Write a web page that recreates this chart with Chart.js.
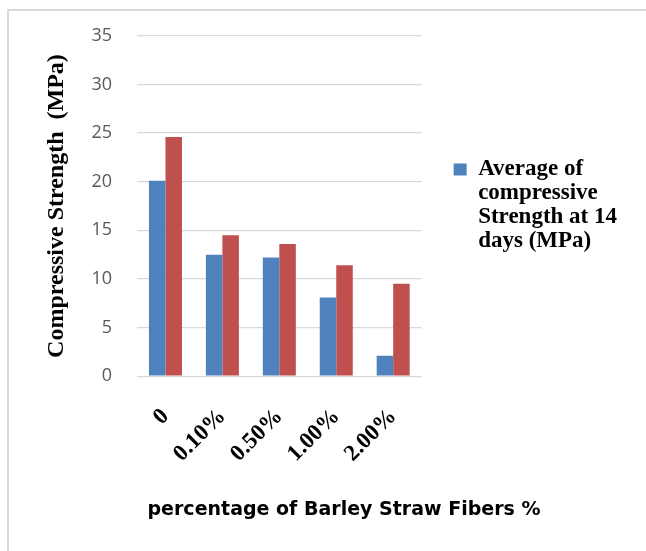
<!DOCTYPE html>
<html>
<head>
<meta charset="utf-8">
<script src="https://cdn.jsdelivr.net/npm/chart.js@4.4.1/dist/chart.umd.min.js"></script>
<style>
  html, body { margin: 0; padding: 0; background: #fff; overflow: hidden; }
  #wrap { position: relative; width: 646px; height: 551px; }
  #frame { position: absolute; left: 7px; top: 9px; right: -10px; bottom: -10px;
           border-left: 2px solid #d9d9d9; border-top: 2px solid #d9d9d9; }
  canvas { position: absolute; left: 0; top: 0; }
</style>
</head>
<body>
<div id="wrap">
  <div id="frame"></div>
  <canvas id="chart" width="646" height="551"></canvas>
</div>
<script>
// fiber content categories
const categories = ['0', '0.10%', '0.50%', '1.00%', '2.00%'];
// compressive strength at 14 days (MPa)
const strength14 = [20.1, 12.5, 12.2, 8.1, 2.1];
// second series (its legend entry is cut off in the source)
const strength28 = [24.6, 14.5, 13.6, 11.4, 9.5];
const yTicks = [0, 5, 10, 15, 20, 25, 30, 35];
const legendLines = ['Average of', 'compressive', 'Strength at 14', 'days (MPa)'];
const xCaption = 'percentage of Barley Straw Fibers %';

const serif = '"Liberation Serif", "Times New Roman", serif';

// x caption is centred on the whole figure, not on the plot area
const captionPlugin = {
  id: 'caption',
  afterDraw(chart) {
    const ctx = chart.ctx;
    ctx.save();
    ctx.font = 'bold 19px "DejaVu Sans", sans-serif';
    ctx.fillStyle = '#000';
    ctx.textAlign = 'center';
    ctx.textBaseline = 'alphabetic';
    ctx.fillText(xCaption, 344, 515);
    ctx.restore();
  }
};

new Chart(document.getElementById('chart'), {
  type: 'bar',
  data: {
    labels: categories,
    datasets: [
      { label: 'Average of compressive Strength at 14 days (MPa)', data: strength14, backgroundColor: '#4f81bd' },
      { label: 'Compressive Strength (MPa)', data: strength28, backgroundColor: '#c0504d' }
    ]
  },
  options: {
    responsive: false,
    animation: false,
    layout: { padding: { left: 7, right: 19, top: 33.5, bottom: 64.5 } },
    datasets: { bar: { categoryPercentage: 0.58, barPercentage: 1 } },
    plugins: {
      tooltip: { enabled: false },
      legend: {
        position: 'right',
        fullSize: false,
        maxWidth: 300,
        labels: {
          boxWidth: 13,
          boxHeight: 12,
          padding: 32,
          color: '#000',
          font: { family: serif, size: 23, weight: 'bold', lineHeight: '24px' },
          generateLabels: chart => Chart.defaults.plugins.legend.labels.generateLabels(chart)
            .filter(item => item.datasetIndex === 0)
            .map(item => ({ ...item, text: legendLines, lineWidth: 0 }))
        }
      }
    },
    scales: {
      x: {
        grid: { display: false },
        border: { display: false },
        ticks: { color: '#000', font: { family: serif, size: 23, weight: 'bold' }, maxRotation: 45, minRotation: 45, padding: 19 }
      },
      y: {
        min: 0,
        max: 35,
        afterBuildTicks: axis => { axis.ticks = yTicks.map(v => ({ value: v })); },
        afterFit: axis => { axis.width = 130; },
        grid: { color: '#d9d9d9', lineWidth: 1.3, drawTicks: false },
        border: { display: false },
        ticks: { color: '#595959', font: { family: '"Open Sans", sans-serif', size: 18 }, padding: 25 },
        title: {
          display: true,
          text: 'Compressive Strength  (MPa)',
          color: '#000',
          font: { family: serif, size: 24, weight: 'bold', lineHeight: 1.1 },
          padding: { top: 37, bottom: 21 }
        }
      }
    }
  },
  plugins: [captionPlugin]
});
</script>
</body>
</html>
